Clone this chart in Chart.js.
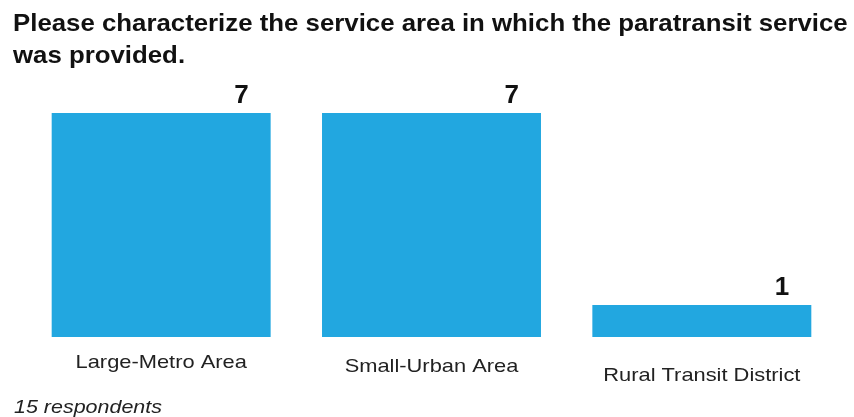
<!DOCTYPE html>
<html lang="en">
<head>
<meta charset="UTF-8">
<title>Service area</title>
<script src="https://cdn.jsdelivr.net/npm/chart.js@4.4.1/dist/chart.umd.min.js"></script>
<style>
  html, body { margin: 0; padding: 0; background: #fff; }
  #wrap { width: 854px; height: 417px; }
</style>
</head>
<body>
<div id="wrap"><canvas id="chart" width="854" height="417"></canvas></div>
<script>
const categories = ['Large-Metro Area', 'Small-Urban Area', 'Rural Transit District'];
const counts = [7, 7, 1];
const titleLines = ['Please characterize the service area in which the paratransit service', 'was provided.'];
const footnote = '15 respondents';

// the original image is a bit stretched sideways, so text is widened
const labelDrop = [31, 35, 44];

function wideText(ctx, txt, x, y, sx, align) {
  const w = ctx.measureText(txt).width * sx;
  let left = x;
  if (align === 'center') left = x - w / 2;
  if (align === 'right') left = x - w;
  ctx.save();
  ctx.translate(left, y);
  ctx.scale(sx, 1);
  ctx.textAlign = 'left';
  ctx.fillText(txt, 0, 0);
  ctx.restore();
}

const textPlugin = {
  id: 'texts',
  afterDatasetsDraw(chart) {
    const ctx = chart.ctx;
    const meta = chart.getDatasetMeta(0);
    const x = chart.scales.x;
    ctx.save();
    ctx.fillStyle = '#111';
    ctx.textBaseline = 'alphabetic';

    // title
    ctx.font = 'bold 24px "Liberation Sans", Arial, sans-serif';
    wideText(ctx, titleLines[0], 13, 31, 1.075, 'left');
    wideText(ctx, titleLines[1], 13, 63, 1.075, 'left');

    // value labels, right aligned near bar end
    ctx.font = 'bold 26px "Liberation Sans", Arial, sans-serif';
    meta.data.forEach((bar, i) => {
      const right = bar.x + bar.width / 2;
      wideText(ctx, String(counts[i]), right - 22, bar.y - 10, 1.0, 'right');
    });

    // category labels
    ctx.font = '19px "Liberation Sans", Arial, sans-serif';
    ctx.fillStyle = '#222';
    categories.forEach((c, i) => {
      wideText(ctx, c, x.getPixelForValue(i), chart.chartArea.bottom + labelDrop[i], 1.15, 'center');
    });

    // footnote
    ctx.font = 'italic 19px "Liberation Sans", Arial, sans-serif';
    wideText(ctx, footnote, 14, 413, 1.13, 'left');
    ctx.restore();
  }
};

new Chart(document.getElementById('chart'), {
  type: 'bar',
  data: {
    labels: categories,
    datasets: [{
      data: counts,
      backgroundColor: '#22a7e0',
      borderWidth: 0,
      categoryPercentage: 1,
      barPercentage: 0.81
    }]
  },
  options: {
    responsive: false,
    animation: false,
    layout: { padding: { top: 113, bottom: 80, left: 26, right: 17 } },
    scales: {
      x: { display: false },
      y: { display: false, min: 0, max: 7 }
    },
    plugins: {
      legend: { display: false },
      tooltip: { enabled: false }
    }
  },
  plugins: [textPlugin]
});
</script>
</body>
</html>
